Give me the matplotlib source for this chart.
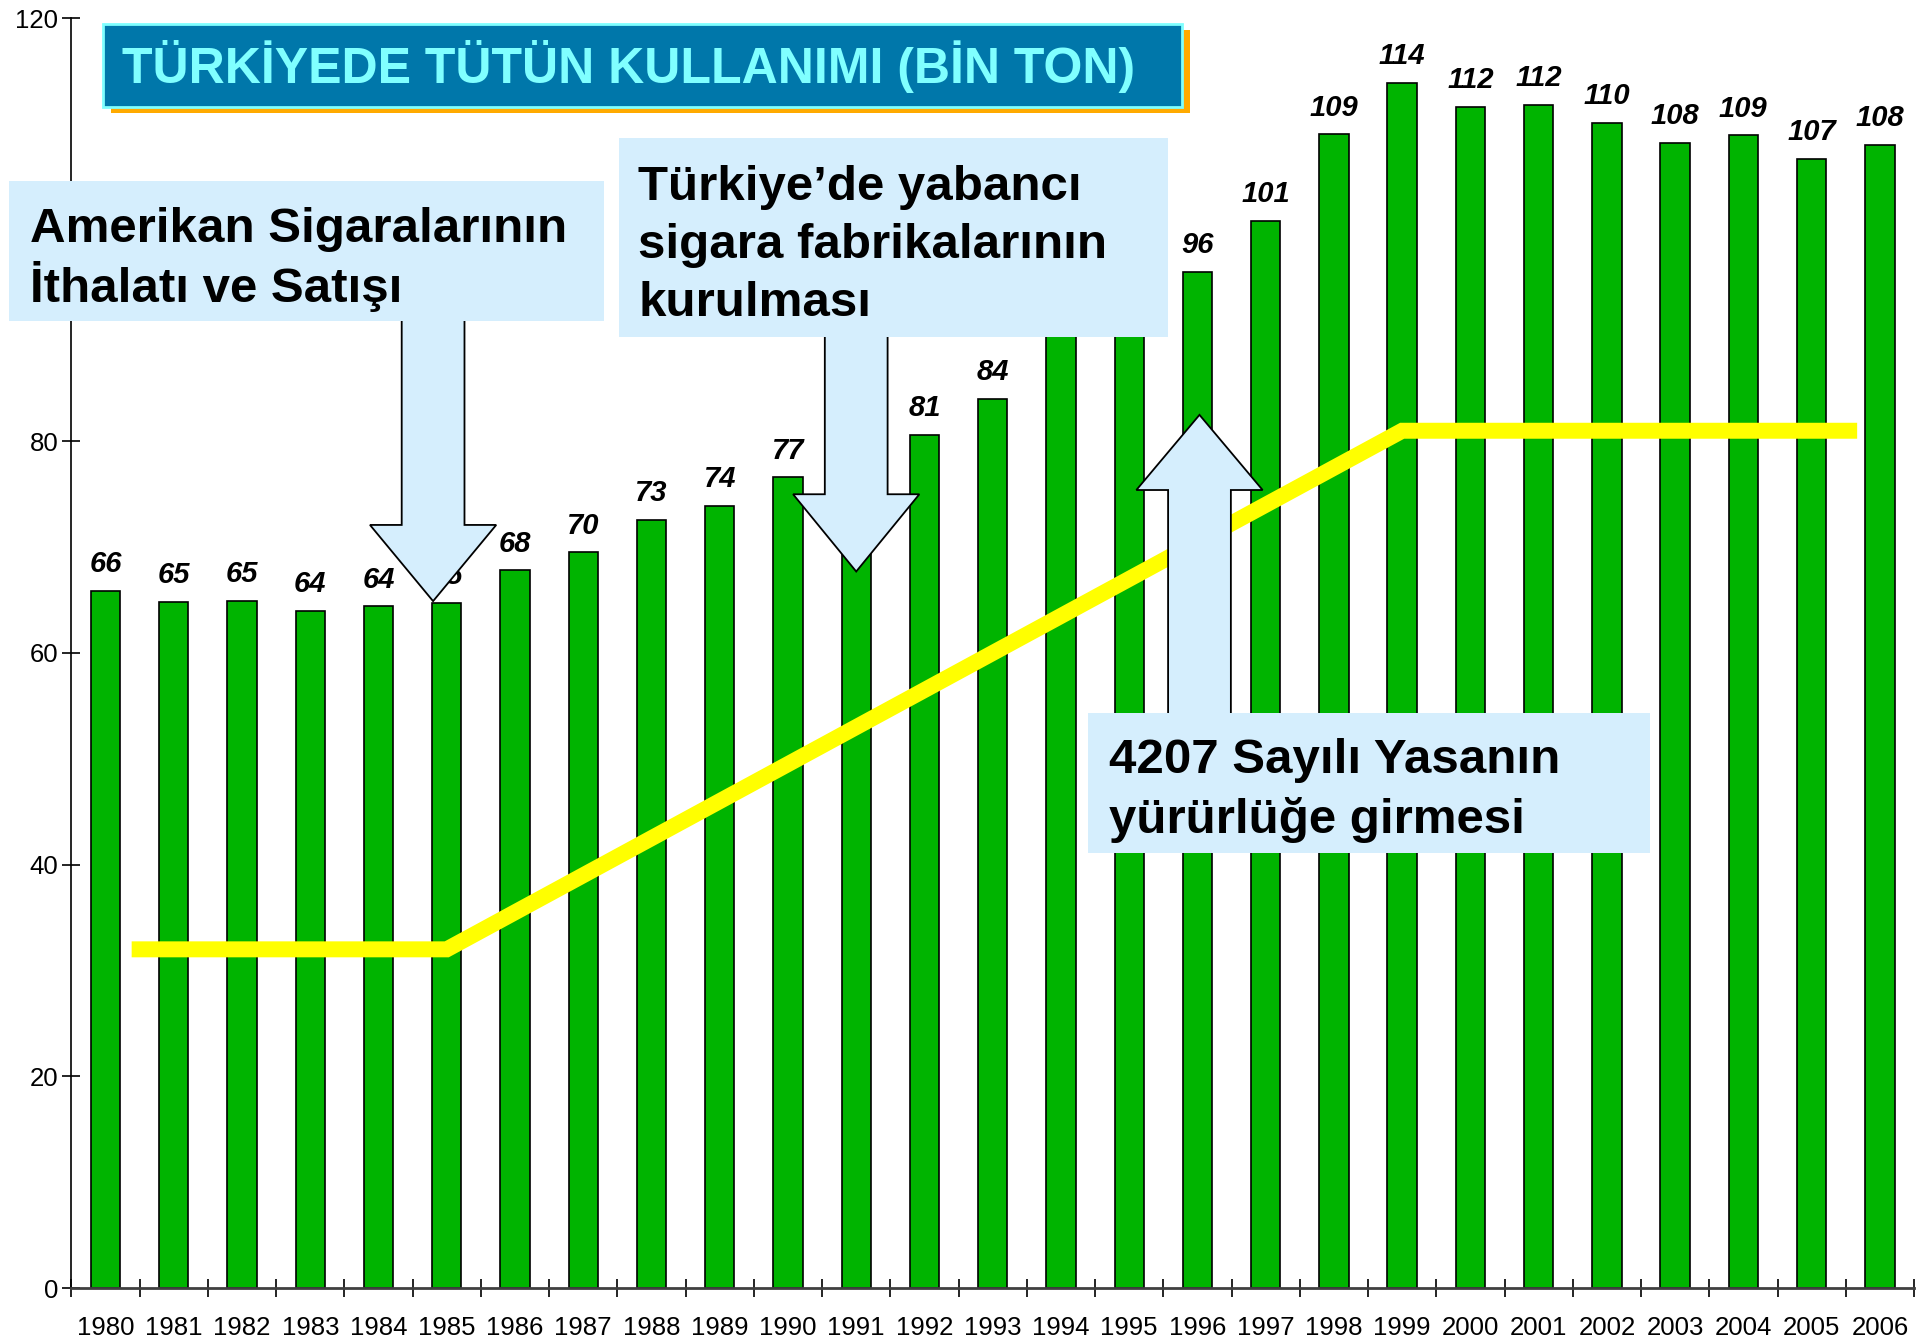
import numpy as np
import matplotlib.pyplot as plt
from matplotlib.patches import Polygon, Rectangle

plt.rcParams['font.family'] = ['Liberation Sans', 'DejaVu Sans']

years = list(range(1980, 2007))
# bin ton
usage = [65.9, 64.8, 64.95, 64.0, 64.4, 64.75, 67.8, 69.5, 72.6, 73.9, 76.6,
         79.0, 80.6, 84.0, 91.0, 93.0, 96.0, 100.8, 109.0, 113.9, 111.6,
         111.8, 110.1, 108.2, 108.9, 106.7, 108.0]

# yellow trend line (category index, value)
trend_x = [0.5, 5, 19, 25.55]
trend_y = [32, 32, 81, 81]

yticks = [0, 20, 40, 60, 80, 100, 120]
# the 100 label sits under the left note box in the reference
ytick_labels = ['0', '20', '40', '60', '80', '', '120']

title = 'TÜRKİYEDE TÜTÜN KULLANIMI (BİN TON)'
note1 = ['Amerikan Sigaralarının', 'İthalatı ve Satışı']
note2 = ['Türkiye\u2019de yabancı', 'sigara fabrikalarının', 'kurulması']
note3 = ['4207 Sayılı Yasanın', 'yürürlüğe girmesi']

W, H = 1930, 1342
fig = plt.figure(figsize=(W/100, H/100), dpi=100)
ax = fig.add_axes([71.4/W, 1-1288/H, (1914-71.4)/W, (1288-18)/H])

x = np.arange(len(years))
ax.bar(x, usage, width=0.43, color='#00B400', edgecolor='black', linewidth=1.2, zorder=2)
for i, v in enumerate(usage):
	ax.annotate('%.0f' % v, (i, v), xytext=(0, 13.5), textcoords='offset points',
		ha='center', va='baseline', fontsize=21, fontweight='bold', fontstyle='italic', zorder=3)

ax.plot(trend_x, trend_y, color='#FFFF00', lw=11.5, solid_joinstyle='miter', zorder=4)

def arrow(xc, tip, head, tail, hw=0.925, sw=0.46):
	pts = [(xc, tip), (xc-hw, head), (xc-sw, head), (xc-sw, tail),
		(xc+sw, tail), (xc+sw, head), (xc+hw, head)]
	ax.add_patch(Polygon(pts, closed=True, facecolor='#D5EEFD', edgecolor='black',
		lw=1.3, zorder=5, clip_on=False))

arrow(4.80, 64.9, 72.1, 95)
arrow(11.0, 67.7, 75.0, 95)
arrow(16.03, 82.5, 75.4, 50)

ax.set_xlim(-0.5, len(years)-0.5)
ax.set_ylim(0, 120)
ax.set_yticks(yticks)
ax.set_yticklabels(ytick_labels)
ax.set_xticks(x)
ax.set_xticklabels([str(y) for y in years])
ax.set_xticks(np.arange(len(years)+1)-0.5, minor=True)
ax.tick_params(axis='x', which='major', length=0, pad=20, labelsize=18.5)
ax.tick_params(axis='x', which='minor', length=13, width=1.2, direction='inout')
ax.tick_params(axis='y', length=13, width=1.2, direction='inout', pad=3, labelsize=18.5)
for s in ['top', 'right']:
	ax.spines[s].set_visible(False)
ax.spines['left'].set_linewidth(1.2)
ax.spines['bottom'].set_linewidth(2)
ax.spines['bottom'].set_color('#404040')

def px(xp, yp):
	return (xp/W, 1-yp/H)

def box(x0, y0, x1, y1, **kw):
	r = Rectangle(px(x0, y1), (x1-x0)/W, (y1-y0)/H, transform=fig.transFigure, **kw)
	fig.patches.append(r)

# title
box(111, 30, 1190, 113, facecolor='#FFAA00', edgecolor='none', zorder=10)
box(103, 24, 1182, 107, facecolor='#0077AA', edgecolor='#7FFFFF', lw=2, zorder=11)
fig.text(*px(122, 83), title, color='#80FFFF', fontsize=36, fontweight='bold',
	va='baseline', zorder=12)

# note boxes
notes = [(note1, (9, 181, 604, 321), 30, 242, 60),
	(note2, (619, 138, 1168, 337), 638, 200, 58),
	(note3, (1088, 713, 1650, 853), 1109, 773, 60)]
for lines, (x0, y0, x1, y1), tx, ty, dy in notes:
	box(x0, y0, x1, y1, facecolor='#D5EEFD', edgecolor='none', zorder=10)
	for k, ln in enumerate(lines):
		fig.text(*px(tx, ty + k*dy), ln, fontsize=35.5, fontweight='bold',
			va='baseline', zorder=12)

fig.savefig('out.png', dpi=100)
